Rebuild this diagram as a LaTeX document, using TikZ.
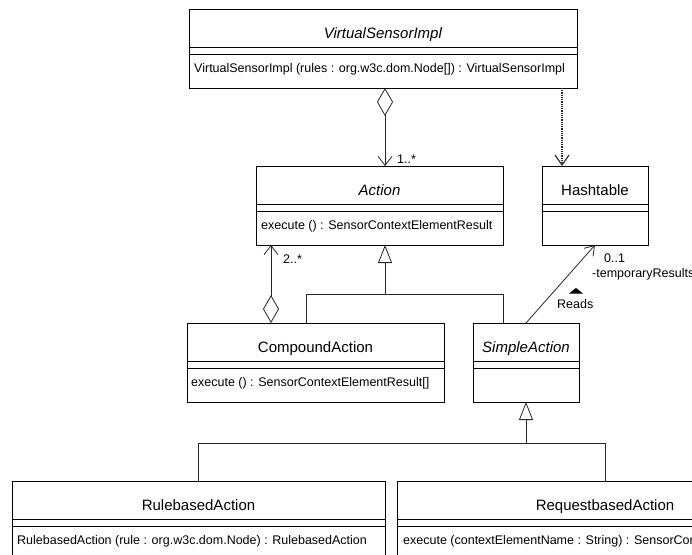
\documentclass[tikz,border=0pt]{standalone}
\usepackage{fontspec}
\setmainfont{Liberation Sans}
\usetikzlibrary{arrows.meta}
\tikzstyle{classbox} = [rectangle, draw, line width=0.8pt, inner sep=0pt, outer sep=0pt,
    minimum height=79pt]
\tikzstyle{classname} = [font=\fontsize{15}{18}\selectfont, anchor=base, inner sep=0pt]
\tikzstyle{oper} = [font=\fontsize{12.5}{15}\selectfont, anchor=base west, inner sep=0pt]
\tikzstyle{mult} = [oper]
\tikzstyle{line} = [draw, black!85, line width=0.8pt]
\tikzstyle{aggr} = [line, {Diamond[open,length=28pt,width=16pt]}-{Straight Barb[length=9pt,width=14pt]}]
\tikzstyle{inherit} = [line, -{Triangle[open,length=18pt,width=14pt,fill=white]}]
\tikzstyle{depend} = [line, densely dotted, line width=1.1pt, -{Straight Barb[length=10pt,width=14pt]}]
\tikzstyle{assoc} = [line, -{Straight Barb[length=9pt,width=12pt]}]

\begin{document}
\begin{tikzpicture}[x=1pt, y=-1pt, node distance=157pt]
	\useasboundingbox (0,0) rectangle (692,554);
	\clip (0,0) rectangle (692,554);

	% classes
	\node [classbox, minimum width=388pt] (vsi) at (383,48.5) {};
	\node [classbox, minimum width=247pt, below of=vsi, xshift=-3.5pt] (act) {};
	\node [classbox, minimum width=106pt, right of=act, node distance=215.5pt] (hash) {};
	\node [classbox, minimum width=257pt, below of=act, xshift=-64pt] (comp) {};
	\node [classbox, minimum width=106pt, right of=comp, node distance=210.5pt] (simple) {};
	\node [classbox, minimum width=373pt, below of=comp, node distance=158pt, xshift=-117pt] (rule) {};
	\node [classbox, minimum width=416pt, right of=rule, node distance=406.5pt] (req) {};

	% compartments (empty attribute part between the two lines)
	\foreach \c in {vsi,act,hash,comp,simple,rule,req}
		\draw [line width=0.8pt] ([yshift=-38pt]\c.north west) -- ([yshift=-38pt]\c.north east)
			([yshift=-45pt]\c.north west) -- ([yshift=-45pt]\c.north east);

	\node [classname] (vsiname) at ([yshift=-29.5pt]vsi.north) {\textit{VirtualSensorImpl}};
	\node [classname] (actname) at ([yshift=-29.5pt]act.north) {\textit{Action}};
	\node [classname] (hashname) at ([yshift=-29.5pt]hash.north) {Hashtable};
	\node [classname] (compname) at ([yshift=-29.5pt]comp.north) {CompoundAction};
	\node [classname] (simplename) at ([yshift=-29.5pt]simple.north) {\textit{SimpleAction}};
	\node [classname] (rulename) at ([yshift=-29.5pt]rule.north) {RulebasedAction};
	\node [classname] (reqname) at ([yshift=-29.5pt]req.north) {RequestbasedAction};

	\node [oper] (vsiop) at ([xshift=5pt,yshift=-63.5pt]vsi.north west) {VirtualSensorImpl (rules : org.w3c.dom.Node[]) : VirtualSensorImpl};
	\node [oper] (actop) at ([xshift=5pt,yshift=-63.5pt]act.north west) {execute () : SensorContextElementResult};
	\node [oper] (compop) at ([xshift=4pt,yshift=-63.5pt]comp.north west) {execute () : SensorContextElementResult[]};
	\node [oper] (ruleop) at ([xshift=5pt,yshift=-63.5pt]rule.north west) {RulebasedAction (rule : org.w3c.dom.Node) : RulebasedAction};
	\node [oper] (reqop) at ([xshift=6pt,yshift=-63.5pt]req.north west) {execute (contextElementName : String) : SensorContextElementResult};

	% connectors
	\coordinate (ax1) at (385,0);
	\coordinate (ax2) at (271,0);
	\coordinate (dx) at (562,0);
	\draw [aggr] (vsi.south -| ax1) -- (act.north -| ax1);
	\draw [aggr] (comp.north -| ax2) -- (act.south -| ax2);
	\draw [depend] (vsi.south -| dx) -- (hash.north -| dx);
	\draw [assoc] (simple.north) -- (hash.south);

	\coordinate (t1) at (385,294);
	\coordinate (t1l) at (306,294);
	\coordinate (t1r) at (503,294);
	\draw [line] (comp.north -| t1l) -- (t1l) -- (t1r) -- (simple.north -| t1r);
	\draw [inherit] (t1) -- (act.south -| t1);

	\coordinate (t2) at (526,443.5);
	\draw [line] (rule.north) -- (rule.north |- t2) -- (req.north |- t2) -- (req.north);
	\draw [inherit] (t2) -- (simple.south);

	% multiplicities and role names
	\node [mult] (m1) at (397,163) {1..*};
	\node [mult] (m2) at (283,263) {2..*};
	\node [mult] (m3) at (604,262) {0..1};
	\node [mult] (role) at (592,277) {-temporaryResults};
	\node [mult] (reads) at (557,308) {Reads};
	\fill (569,293.5) -- (576,288) -- (583,293.5) -- cycle;
\end{tikzpicture}
\end{document}
